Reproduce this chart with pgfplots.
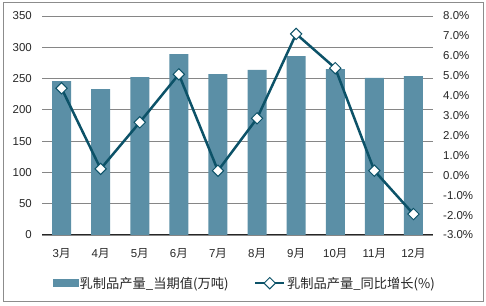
\documentclass[border=0pt]{standalone}
\usepackage{fontspec}
\setmainfont{Liberation Sans}
\newfontfamily\cjk{Noto Sans CJK SC}
\usepackage{pgfplots}
\pgfplotsset{compat=1.18}
\definecolor{barcol}{RGB}{91,143,166}
\definecolor{linecol}{RGB}{12,82,104}
\definecolor{gridcol}{RGB}{134,134,134}
\definecolor{framecol}{RGB}{140,140,140}
\begin{document}
\begin{tikzpicture}
\path (0bp,0bp) rectangle (486bp,306bp);
\draw[framecol, line width=1bp] (3.5bp,4bp) rectangle (483bp,303bp);
\begin{axis}[
  at={(42bp,71bp)}, anchor=south west, scale only axis,
  width=391bp, height=219bp,
  xmin=-0.5, xmax=9.5, ymin=0, ymax=350,
  ytick={0,50,...,350},
  xtick={0,...,9},
  xticklabels={{3\cjk 月},{4\cjk 月},{5\cjk 月},{6\cjk 月},{7\cjk 月},{8\cjk 月},{9\cjk 月},{10\cjk 月},{11\cjk 月},{12\cjk 月}},
  axis x line*=bottom, axis y line*=left,
  x axis line style={draw=black!85, line width=1bp, -},
  y axis line style={draw=none},
  tick style={draw=none},
  ymajorgrids, grid style={gridcol, line width=0.8bp},
  /pgf/number format/assume math mode=true,
  ticklabel style={font=\fontsize{11.5}{13}\selectfont, text=black!85},
  yticklabel style={inner sep=0pt},
  yticklabel shift=10bp,
  xticklabel style={inner sep=0pt},
  xticklabel shift=13bp,
]
\addplot[ybar, bar width=19bp, fill=barcol, draw=none] coordinates {
(0,246) (1,233) (2,252.5) (3,289) (4,257) (5,264) (6,286) (7,265) (8,251) (9,254)};
\end{axis}
\begin{axis}[
  at={(42bp,71bp)}, anchor=south west, scale only axis,
  width=391bp, height=219bp,
  xmin=-0.5, xmax=9.5, ymin=-3, ymax=8,
  ytick={-3,...,8},
  axis x line=none, axis y line*=right,
  y axis line style={draw=none},
  tick style={draw=none},
  /pgf/number format/assume math mode=true,
  yticklabel={\pgfmathprintnumber[fixed,fixed zerofill,precision=1]{\tick}\%},
  ticklabel style={font=\fontsize{11.5}{13}\selectfont, text=black!85},
  yticklabel style={inner sep=0pt},
  yticklabel shift=10bp,
  legend columns=2,
  legend style={at={(0.518,-0.22)}, anchor=center, draw=none, fill=none,
    font=\cjk\fontsize{13.3}{15}\selectfont, text=black!85,
    nodes={inner xsep=1.5bp},
    /tikz/every even column/.append style={column sep=24bp}},
  legend cell align=left,
]
\addlegendimage{legend image code/.code={\fill[barcol] (0bp,-3.5bp) rectangle (25bp,3.5bp);}}
\addlegendentry{乳制品产量\_当期值(万吨)}
\addplot[linecol, line width=2.5bp, mark=square*, mark size=4bp,
  mark options={rotate=45, fill=white, draw=linecol, line width=1bp},
  legend image code/.code={\draw[mark repeat=2,mark phase=2] plot coordinates {(0bp,0bp) (14.5bp,0bp) (29bp,0bp)};}]
coordinates {
(0,4.37) (1,0.32) (2,2.66) (3,5.07) (4,0.23) (5,2.86) (6,7.1) (7,5.38) (8,0.23) (9,-1.95)};
\addlegendentry{乳制品产量\_同比增长(\%)}
\end{axis}
\end{tikzpicture}
\end{document}
